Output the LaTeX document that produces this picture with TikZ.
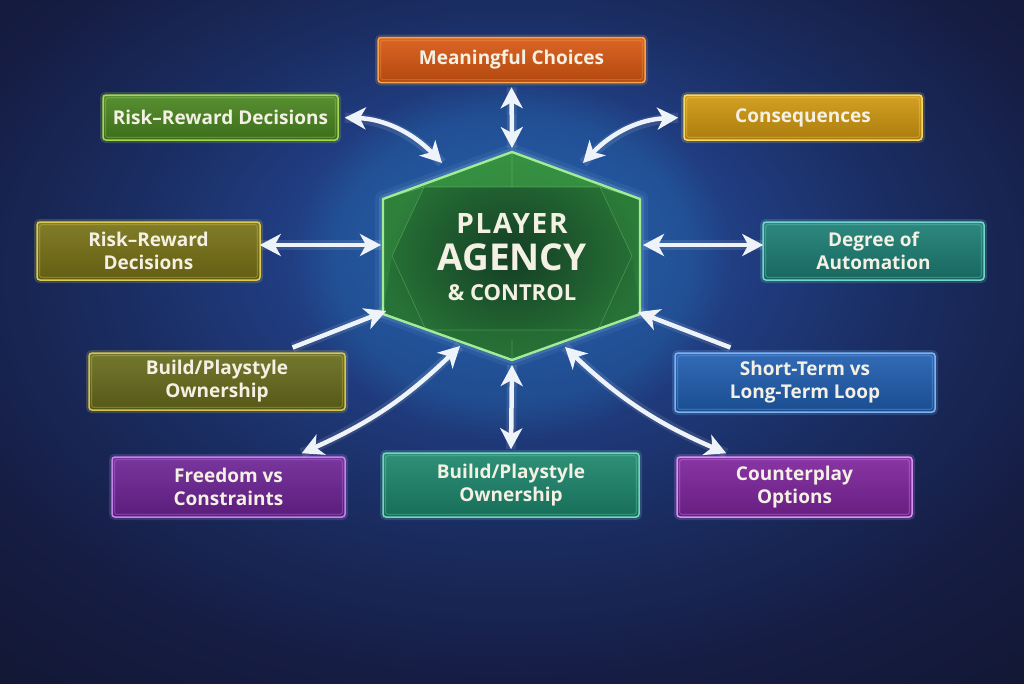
\documentclass[tikz,border=0pt]{standalone}
\usepackage{fontspec}
\setmainfont{Open Sans}
\usetikzlibrary{arrows.meta,fadings,calc}
\definecolor{txt}{HTML}{F4F1E4}
\definecolor{bgA}{HTML}{2C5AA8}
\definecolor{bgB}{HTML}{22428A}
\definecolor{bgC}{HTML}{1A2D62}
\definecolor{bgD}{HTML}{161D44}
\definecolor{bgE}{HTML}{11152E}
\definecolor{bgF}{HTML}{0D1024}
\definecolor{oc}{HTML}{D95812}\definecolor{ob}{HTML}{F7A24E}
\definecolor{gc}{HTML}{4A8620}\definecolor{gb}{HTML}{A6D84E}
\definecolor{yc}{HTML}{D09810}\definecolor{yb}{HTML}{F8D862}
\definecolor{olc}{HTML}{787216}\definecolor{olb}{HTML}{DCCB52}
\definecolor{tc}{HTML}{1C7E74}\definecolor{tb}{HTML}{72D6CA}
\definecolor{ogc}{HTML}{686C1C}\definecolor{ogb}{HTML}{D6C452}
\definecolor{bc}{HTML}{205EB0}\definecolor{bb}{HTML}{7CB4F2}
\definecolor{pc}{HTML}{6E2496}\definecolor{pb}{HTML}{C482EA}
\definecolor{mc}{HTML}{7E249C}\definecolor{mb}{HTML}{D692F2}
\definecolor{gtc}{HTML}{1C866C}\definecolor{gtb}{HTML}{76D6BC}
\definecolor{hexin}{HTML}{143E25}
\definecolor{hexout}{HTML}{277236}
\definecolor{hexband}{HTML}{3C9C46}
\definecolor{hexedge}{HTML}{A2EC98}
\definecolor{arrw}{HTML}{EEF3FA}
\pgfdeclareradialshading{bgshade}{\pgfpoint{0bp}{8bp}}{color(0bp)=(bgA); color(9bp)=(bgB); color(19bp)=(bgC); color(29bp)=(bgD); color(41bp)=(bgE); color(62bp)=(bgF)}
\tikzset{
  box/.style 2 args={rectangle, rounded corners=3pt, line width=1.5pt, draw=#2,
    top color=#1!92!white, bottom color=#1!82!black,
    preaction={draw=#2, line width=6pt, draw opacity=.2},
    text=txt, font=\bfseries\fontsize{19}{23}\selectfont, align=center, inner sep=0pt},
  arr2/.style={draw=arrw, line width=4.5pt, {Stealth[length=21pt,width=22pt,inset=6pt]}-{Stealth[length=21pt,width=22pt,inset=6pt]},
    preaction={draw=white, line width=10pt, draw opacity=.10, arrows=-}},
  arr1/.style={draw=arrw, line width=4.5pt, -{Stealth[length=21pt,width=22pt,inset=6pt]},
    preaction={draw=white, line width=10pt, draw opacity=.10, arrows=-}},
  hextxt/.style={text=txt, font=\bfseries, anchor=base, inner sep=0pt}
}
\begin{document}
\begin{tikzpicture}[x=1pt,y=-1pt]
\useasboundingbox (0,0) rectangle (1024,683);
\shade[shading=bgshade] (0,0) rectangle (1024,683);
% soft glow behind centre
\fill[color=bgA!80!cyan, path fading=circle with fuzzy edge 20 percent, opacity=.25] (512,258) ellipse (220 and 180);

% ---------- hexagon ----------
\coordinate (hT) at (512,152);
\coordinate (hTL) at (383,199);
\coordinate (hBL) at (383,314);
\coordinate (hB) at (512,360);
\coordinate (hBR) at (640,314);
\coordinate (hTR) at (640,199);
\coordinate (iTL) at (424,187);
\coordinate (iTR) at (600,187);
\coordinate (iR) at (632,256);
\coordinate (iBR) at (598,330);
\coordinate (iBL) at (426,330);
\coordinate (iL) at (392,256);
\draw[cyan!40!white, line width=16pt, opacity=.07, line join=round] (hT)--(hTR)--(hBR)--(hB)--(hBL)--(hTL)--cycle;
\draw[cyan!30!white, line width=8pt, opacity=.14, line join=round] (hT)--(hTR)--(hBR)--(hB)--(hBL)--(hTL)--cycle;
\shade[inner color=hexin, outer color=hexout] (hT)--(hTR)--(hBR)--(hB)--(hBL)--(hTL)--cycle;
\fill[hexband, opacity=.75] (hTL)--(hT)--(hTR)--(iTR)--(iTL)--cycle;
\fill[hexband, opacity=.35] (hTL)--(iTL)--(iL)--(hBL)--cycle;
\fill[hexband, opacity=.22] (hTR)--(iTR)--(iR)--(hBR)--cycle;
\fill[hexout, opacity=.55] (hBL)--(iBL)--(iBR)--(hBR)--(hB)--cycle;
\draw[hexedge, opacity=.3, line width=.6pt] (iTL)--(iTR)--(iR)--(iBR)--(iBL)--(iL)--cycle;
\draw[hexedge, opacity=.3, line width=.6pt] (hT)--(512,187) (hTL)--(iTL) (hTR)--(iTR) (hBL)--(iBL) (hBR)--(iBR) (hB)--(512,340);
\draw[hexedge, line width=2.4pt, line join=round] (hT)--(hTR)--(hBR)--(hB)--(hBL)--(hTL)--cycle;
\node[hextxt, font=\bfseries\fontsize{28}{30}\selectfont\addfontfeature{LetterSpace=6}] (hexA) at (512,233) {PLAYER};
\node[hextxt, font=\bfseries\fontsize{37}{40}\selectfont] (hexB) at (512,270) {AGENCY};
\node[hextxt, font=\bfseries\fontsize{22}{24}\selectfont] (hexC) at (512,300) {\& CONTROL};

% arrow targets on hexagon
\coordinate (tT) at (512,148);
\coordinate (tTL) at (442,163);
\coordinate (tTR) at (583,163);
\coordinate (tL) at (381,245);
\coordinate (tR) at (643,245);
\coordinate (tBL) at (386,311);
\coordinate (tBR) at (638,312);
\coordinate (tLB) at (460,346);
\coordinate (tRB) at (565,347);
\coordinate (tB) at (512,365);

% ---------- boxes ----------
\node[box={oc}{ob}, minimum width=267pt, minimum height=45pt] (mch) at (511.5,60) {Meaningful Choices};
\node[box={gc}{gb}, minimum width=235pt, minimum height=45pt] (rr1) at (220.5,117.5) {Risk–Reward Decisions};
\node[box={yc}{yb}, minimum width=238pt, minimum height=45pt] (cons) at (803,117.5) {Consequences};
\node[box={olc}{olb}, minimum width=223pt, minimum height=58pt] (rr2) at (148.5,251) {Risk–Reward\\Decisions};
\node[box={tc}{tb}, minimum width=221pt, minimum height=58pt] (deg) at (873.5,251) {Degree of\\Automation};
\node[box={ogc}{ogb}, minimum width=256pt, minimum height=57pt] (bl) at (217,381.5) {Build/Playstyle\\Ownership};
\node[box={bc}{bb}, minimum width=260pt, minimum height=59pt] (st) at (805,382.5) {Short-Term vs\\Long-Term Loop};
\node[box={pc}{pb}, minimum width=233pt, minimum height=60pt] (fr) at (228.5,487) {Freedom vs\\Constraints};
\node[box={mc}{mb}, minimum width=235pt, minimum height=60pt] (cp) at (794.5,487) {Counterplay\\Options};
\node[box={gtc}{gtb}, minimum width=256pt, minimum height=64pt] (bbx) at (511,485) {Builıd/Playstyle\\Ownership};

\foreach \n/\c in {mch/ob,rr1/gb,cons/yb,rr2/olb,deg/tb,bl/ogb,st/bb,fr/pb,cp/mb,bbx/gtb}
  \draw[\c, line width=.7pt, opacity=.5, rounded corners=1.5pt]
    ([shift={(3.5pt,-3.5pt)}]\n.north west) rectangle ([shift={(-3.5pt,3.5pt)}]\n.south east);

% ---------- connectors ----------
\draw[arr2, shorten <=4pt] (mch.south) -- (tT);
\draw[arr2, shorten <=6pt] (rr1.east) to[bend left=22] (tTL);
\draw[arr2, shorten <=5pt] (cons.west) to[bend right=22] (tTR);
\draw[arr2] (rr2.east |- tL) ++(-1pt,0) -- (tL);
\draw[arr2] (deg.west |- tR) ++(1pt,0) -- (tR);
\draw[arr1, shorten <=2pt] ([xshift=-55pt,yshift=4pt]bl.north east) -- (tBL);
\draw[arr1, shorten <=2pt] ([xshift=58pt,yshift=4pt]st.north west) -- (tBR);
\draw[arr2] ([xshift=-44pt,yshift=3pt]fr.north east) to[bend right=10] (tLB);
\draw[arr2] ([xshift=50pt,yshift=3pt]cp.north west) to[bend left=10] (tRB);
\draw[arr2] ([yshift=3pt]bbx.north) -- (tB);
\end{tikzpicture}
\end{document}
